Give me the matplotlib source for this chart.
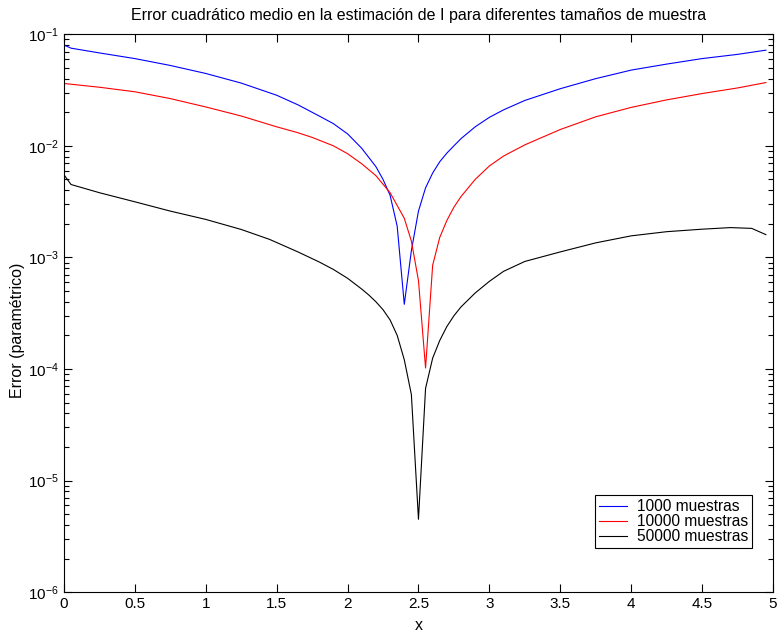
import numpy as np
import matplotlib.pyplot as plt
from matplotlib.ticker import LogLocator, NullFormatter

plt.rcParams['font.family'] = ['Liberation Sans', 'DejaVu Sans']
plt.rcParams['mathtext.fontset'] = 'custom'
plt.rcParams['mathtext.rm'] = 'Liberation Sans'
plt.rcParams['mathtext.it'] = 'Liberation Sans:italic'

# values
x_1000 = [0, 0.05, 0.25, 0.5, 0.75, 1.0, 1.25, 1.5, 1.65, 1.8, 1.9, 2.0, 2.1, 2.2,
          2.25, 2.3, 2.35, 2.4, 2.45, 2.5, 2.55, 2.6, 2.65, 2.7, 2.75, 2.8, 2.9,
          3.0, 3.1, 3.25, 3.5, 3.75, 4.0, 4.25, 4.5, 4.75, 4.95]
err_1000 = [0.080, 0.075, 0.068, 0.0605, 0.0525, 0.0445, 0.0365, 0.0284, 0.0233,
            0.0185, 0.0158, 0.0128, 0.0095, 0.0065, 0.0050, 0.0036, 0.0019,
            0.00038, 0.00115, 0.0026, 0.0042, 0.0057, 0.0072, 0.0086, 0.0100,
            0.0116, 0.0148, 0.0180, 0.0210, 0.0255, 0.0325, 0.0400, 0.0477,
            0.054, 0.0605, 0.066, 0.072]

x_10000 = [0, 0.25, 0.5, 0.75, 1.0, 1.25, 1.5, 1.65, 1.75, 1.9, 2.0, 2.1, 2.2,
           2.3, 2.4, 2.45, 2.5, 2.55, 2.6, 2.65, 2.7, 2.75, 2.8, 2.9, 3.0, 3.1,
           3.25, 3.5, 3.75, 4.0, 4.25, 4.5, 4.75, 4.95]
err_10000 = [0.0362, 0.0335, 0.0305, 0.0265, 0.0223, 0.0185, 0.0148, 0.0131,
             0.0119, 0.0100, 0.0085, 0.0069, 0.0054, 0.0038, 0.00224, 0.0014,
             0.00062, 0.000102, 0.00085, 0.00151, 0.00214, 0.00282, 0.00351,
             0.0050, 0.0066, 0.0081, 0.0102, 0.0140, 0.0182, 0.0221, 0.0258,
             0.0294, 0.0330, 0.0369]

x_50000 = [0, 0.05, 0.25, 0.5, 0.75, 1.0, 1.25, 1.45, 1.65, 1.8, 1.9, 2.0, 2.1,
           2.15, 2.2, 2.25, 2.3, 2.35, 2.4, 2.45, 2.5, 2.55, 2.6, 2.65, 2.7, 2.75,
           2.8, 2.9, 3.0, 3.1, 3.25, 3.5, 3.75, 4.0, 4.25, 4.5, 4.7, 4.85, 4.95]
err_50000 = [0.0055, 0.0045, 0.0038, 0.00315, 0.0026, 0.00219, 0.00178, 0.00145,
             0.00112, 0.00091, 0.00078, 0.00065, 0.00052, 0.00046, 0.00040,
             0.00034, 0.000275, 0.00020, 0.000121, 5.9e-5, 4.5e-6, 6.7e-5,
             0.000125, 0.00018, 0.00024, 0.00030, 0.00036, 0.00048, 0.00061,
             0.00075, 0.00092, 0.00112, 0.00135, 0.00156, 0.0017, 0.00179,
             0.00185, 0.00182, 0.0016]

labels = ['1000 muestras', '10000 muestras', '50000 muestras']
colors = ['#0000ff', '#ff0000', '#000000']

fig = plt.figure(figsize=(7.8, 6.34), dpi=100)
ax = fig.add_axes([0.082, 0.066, 0.909, 0.880])

ax.semilogy(x_1000, err_1000, color=colors[0], lw=0.8, label=labels[0])
ax.semilogy(x_10000, err_10000, color=colors[1], lw=0.8, label=labels[1])
ax.semilogy(x_50000, err_50000, color=colors[2], lw=0.8, label=labels[2])

ax.set_xlim(0, 5)
ax.set_ylim(1e-6, 1e-1)
ax.set_xticks(np.arange(0, 5.01, 0.5))
ax.set_xticklabels(['0', '0.5', '1', '1.5', '2', '2.5', '3', '3.5', '4', '4.5', '5'])
ax.yaxis.set_major_locator(LogLocator(base=10, numticks=10))
ax.yaxis.set_minor_locator(LogLocator(base=10, subs=np.arange(2, 10), numticks=20))
ax.yaxis.set_minor_formatter(NullFormatter())

ax.tick_params(which='both', direction='in', top=True, right=True, labelsize=11)
ax.tick_params(which='major', length=6, width=0.8)
ax.tick_params(which='minor', length=3.5, width=0.8)
for s in ax.spines.values():
    s.set_linewidth(0.8)

ax.set_title('Error cuadrático medio en la estimación de I para diferentes tamaños de muestra',
             fontsize=11.5, pad=10.5)
ax.set_xlabel('x', fontsize=11.5, labelpad=5)
ax.set_ylabel('Error (paramétrico)', fontsize=11.5)
ax.yaxis.set_label_coords(-0.055, 0.47)

leg = ax.legend(loc='lower right', bbox_to_anchor=(0.97, 0.079), fontsize=11.2,
                fancybox=False, framealpha=1, edgecolor='black',
                handlelength=1.8, handletextpad=0.6, borderpad=0.25,
                labelspacing=0.0, borderaxespad=0)
leg.get_frame().set_linewidth(0.8)

fig.savefig('out.png', dpi=100)
